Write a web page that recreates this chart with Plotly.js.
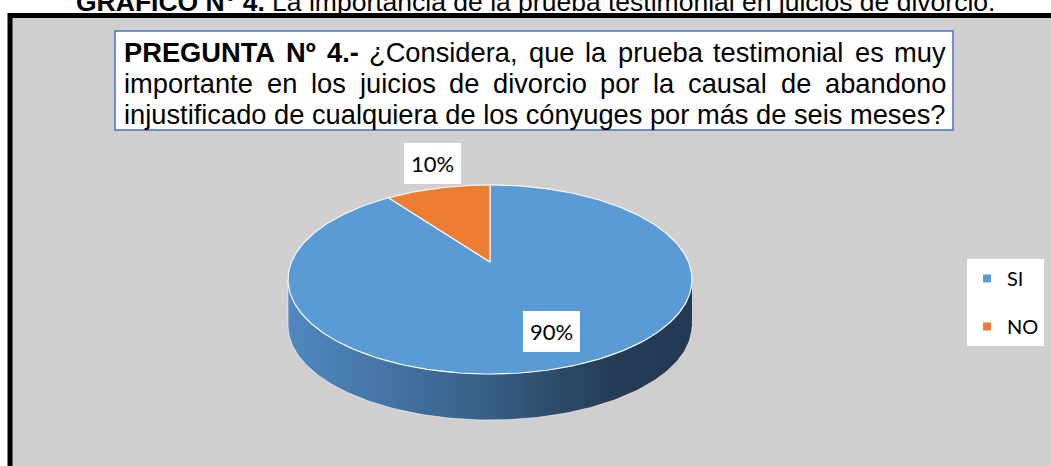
<!DOCTYPE html>
<html><head><meta charset="utf-8">
<script src="https://cdn.plot.ly/plotly-3.0.1.min.js"></script>
<style>html,body{margin:0;padding:0;background:#fff}#chart{width:1051px;height:466px}</style>
</head><body><div id="chart"></div>
<script>
// ---- data ----
const categories = ['SI', 'NO'];
const values = [90, 10];
const sliceColors = ['#5b9bd5', '#ed7d31'];
const chartTitleBold = 'GRAFICO N° 4.';
const chartTitleRest = 'La importancia de la prueba testimonial en juicios de divorcio.';
const questionLine1 = [['b', 'PREGUNTA Nº 4.-'], ['n', '¿Considera, que la  prueba testimonial es muy']];
const questionLine2 = [['n', 'importante en los juicios de divorcio por la causal de abandono']];
const questionLine3 = [['n', 'injustificado de cualquiera de los cónyuges por más de seis meses?']];

// ---- styling / geometry ----
const TEXTFONT = '"Liberation Sans", Arial, sans-serif';
const LABELFONT = 'Lato, Calibri, "Open Sans", sans-serif';
const cx = 490, cy = 262, A = 198.5, B = 91.3, P = 0.185, DEPTH = 46;
const labelRadius = [0.72, 1.4];
const labelAngleShift = [-4, 3];

const cv = document.createElement('canvas').getContext('2d');
function measure(txt, bold, size) {
  cv.font = (bold ? 'bold ' : '') + size + 'px ' + TEXTFONT;
  return cv.measureText(txt).width;
}

function proj(theta, r, dy) {
  const t = theta * Math.PI / 180;
  const u = r * Math.sin(t), w = r * Math.cos(t);
  const k = 1 / (1 + P * w);
  return [cx + A * u * k, cy - B * w * k + (dy || 0)];
}

const total = values.reduce((a, b) => a + b, 0);
const traces = [];

// side (front wall)
const thR = Math.acos(-P) * 180 / Math.PI, thL = 360 - thR;
const sx = [], sy = [];
for (let t = thR; t <= thL + 1e-9; t += 1) { const p = proj(t, 1, 0); sx.push(p[0]); sy.push(p[1]); }
for (let t = thL; t >= thR - 1e-9; t -= 1) { const p = proj(t, 1, DEPTH); sx.push(p[0]); sy.push(p[1]); }
traces.push({
  x: sx, y: sy, type: 'scatter', mode: 'lines', fill: 'toself', hoverinfo: 'skip', showlegend: false,
  line: {color: 'rgba(255,255,255,0.55)', width: 1},
  fillcolor: '#3b6690',
  fillgradient: {type: 'horizontal', colorscale: [[0, '#5088bf'], [0.28, '#42719f'], [0.5, '#375e85'], [0.68, '#2b4967'], [0.82, '#243c54'], [1, '#233a52']]}
});

// top slices
let cum = 0;
const annotations = [];
values.forEach((v, i) => {
  const a0 = cum / total * 360, a1 = (cum + v) / total * 360;
  const xs = [cx], ys = [cy];
  const n = Math.max(2, Math.ceil(a1 - a0));
  for (let j = 0; j <= n; j++) { const p = proj(a0 + (a1 - a0) * j / n, 1, 0); xs.push(p[0]); ys.push(p[1]); }
  xs.push(cx); ys.push(cy);
  traces.push({
    x: xs, y: ys, type: 'scatter', mode: 'lines', fill: 'toself', fillcolor: sliceColors[i],
    line: {color: 'rgba(255,255,255,0.9)', width: 1.2}, hoverinfo: 'skip', showlegend: false
  });
  const lp = proj((a0 + a1) / 2 + labelAngleShift[i], labelRadius[i], 0);
  annotations.push({
    x: lp[0], y: lp[1], xref: 'x', yref: 'y', showarrow: false,
    text: Math.round(v / total * 100) + '%', bgcolor: '#ffffff', borderpad: 7, borderwidth: 0,
    font: {family: LABELFONT, size: 22, color: '#000'}
  });
  cum += v;
});

// legend traces
categories.forEach((c, i) => {
  traces.push({x: [null], y: [null], type: 'scatter', mode: 'markers', name: c, legendgroup: c,
    marker: {symbol: 'square', size: 8, color: sliceColors[i]}, hoverinfo: 'skip'});
});

// chart title (cut at top)
const tw = measure(chartTitleBold + ' ', true, 100) + measure(chartTitleRest, false, 100);
const titleSize = 100 * 920 / tw;
annotations.push({
  x: 535, y: 11 + 0.22 * titleSize, xref: 'x', yref: 'y', xanchor: 'center', yanchor: 'bottom', showarrow: false,
  borderpad: 0, borderwidth: 0,
  text: '<b>' + chartTitleBold + '</b> ' + chartTitleRest, font: {family: TEXTFONT, size: titleSize, color: '#000'}
});

// question text (justified)
const qLeft = 124, qRight = 946;
const qSize = 22 * (qRight - qLeft) / measure(questionLine3[0][1], false, 22);
function words(line) {
  const out = [];
  line.forEach(seg => seg[1].split(/\s+/).filter(s => s).forEach(w => out.push([seg[0] === 'b', w])));
  return out;
}
function placeJustified(line, yc) {
  const ws = words(line);
  const widths = ws.map(w => measure(w[1], w[0], qSize));
  const sum = widths.reduce((a, b) => a + b, 0);
  const gap = (qRight - qLeft - sum) / (ws.length - 1);
  let x = qLeft;
  ws.forEach((w, i) => {
    annotations.push({x: x, y: yc, xref: 'x', yref: 'y', xanchor: 'left', yanchor: 'middle', showarrow: false,
      borderpad: 0, borderwidth: 0, text: w[0] ? '<b>' + w[1] + '</b>' : w[1],
      font: {family: TEXTFONT, size: qSize, color: '#000'}});
    x += widths[i] + gap;
  });
}
placeJustified(questionLine1, 52);
placeJustified(questionLine2, 83);
annotations.push({x: qLeft, y: 114, xref: 'x', yref: 'y', xanchor: 'left', yanchor: 'middle', showarrow: false,
  borderpad: 0, borderwidth: 0, text: questionLine3[0][1], font: {family: TEXTFONT, size: qSize, color: '#000'}});

const layout = {
  width: 1051, height: 466, margin: {l: 0, r: 0, t: 0, b: 0},
  paper_bgcolor: '#ffffff', plot_bgcolor: 'rgba(0,0,0,0)',
  xaxis: {range: [0, 1051], visible: false, fixedrange: true},
  yaxis: {range: [466, 0], visible: false, fixedrange: true},
  showlegend: true,
  legend: {x: 967 / 1051, y: 1 - 259 / 466, xanchor: 'left', yanchor: 'top', bgcolor: '#ffffff',
    borderwidth: 0, font: {family: LABELFONT, size: 20, color: '#000'}, tracegroupgap: 19, traceorder: 'grouped'},
  shapes: [
    {type: 'rect', xref: 'x', yref: 'y', x0: 10, y0: 15.5, x1: 1075, y1: 490, layer: 'below',
      fillcolor: '#d0cecf', line: {color: '#000', width: 5}},
    {type: 'rect', xref: 'x', yref: 'y', x0: 115, y0: 31, x1: 953, y1: 130, layer: 'below',
      fillcolor: '#ffffff', line: {color: '#4472c4', width: 1.5}}
  ],
  annotations: annotations
};
Plotly.newPlot('chart', traces, layout, {displayModeBar: false, staticPlot: true});
</script></body></html>
